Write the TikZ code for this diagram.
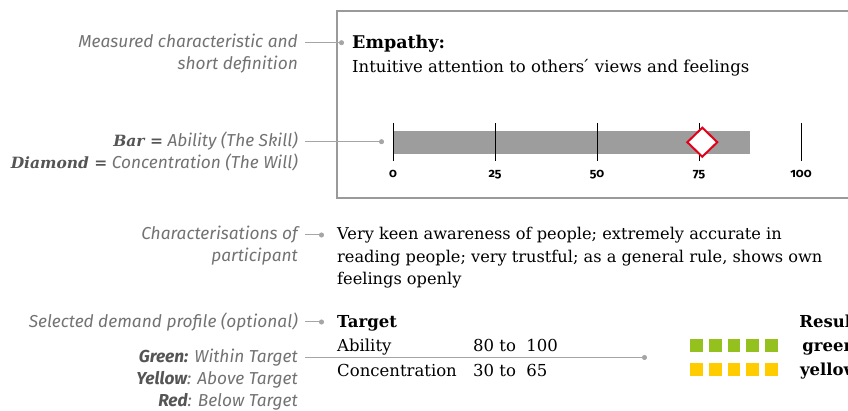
\documentclass[tikz,border=0pt]{standalone}
\usepackage{fontspec}
\setmainfont{DejaVu Serif}
\newfontfamily\labelfont{Fira Sans}
\newfontfamily\tickfont{Fira Sans}[Numbers=OldStyle]
\usetikzlibrary{arrows.meta}

\definecolor{labelgray}{HTML}{727272}
\definecolor{boldgray}{HTML}{555555}
\definecolor{linegray}{HTML}{A5A5A5}
\definecolor{boxgray}{HTML}{9A9A9A}
\definecolor{barfill}{HTML}{9C9D9C}
\definecolor{willred}{HTML}{E2001A}
\definecolor{okgreen}{HTML}{95C11F}
\definecolor{hiyellow}{HTML}{FFCC00}

\newcommand{\keyword}[1]{{\color{boldgray}\rmfamily\bfseries\fontsize{15.5}{22}\selectfont #1}}

\tikzset{
  lbl/.style={anchor=base east, inner sep=0pt, align=right, text=labelgray,
    font=\labelfont\itshape\fontsize{17.3}{22}\selectfont},
  txt/.style={anchor=base west, inner sep=0pt, align=left,
    font=\fontsize{16.5}{23}\selectfont},
  res/.style={anchor=base, inner sep=0pt, font=\bfseries\fontsize{16.5}{22}\selectfont},
  tick/.style={anchor=base, inner sep=0pt, font=\tickfont\bfseries\fontsize{12.5}{14}\selectfont},
  link/.style={draw=linegray, line width=1pt, shorten <=7pt, -{Circle[length=5pt]}},
}

\begin{document}
\begin{tikzpicture}[x=1pt,y=-1pt]
  \path[use as bounding box] (0,0) rectangle (848,411);

	% Caja
	\draw[boxgray,line width=1.2pt] (337,11) rectangle (880,198);

	% Titulo
	\node[txt,font=\bfseries\fontsize{17.5}{20}\selectfont] (empathy) at (352,48.5) {Empathy:};
	\node[txt] (empdef) at (352,72.7) {Intuitive attention to others\'{} views and feelings};

	% Barra
	\fill[barfill] (393,131) rectangle (750,154);
	\foreach \v/\x in {0/393,25/495,50/597,75/699,100/801}{
		\draw[line width=1pt] (\x,123.5) -- (\x,161.5);
		\node[tick] (t\v) at (\x,177.7) {\v};
	}

	% Diamante
	\draw[willred,line width=2pt,fill=white] (687.3,142.2) -- (702.3,127.7) -- (717.3,142.2) -- (702.3,156.7) -- cycle;

	% Caracterizacion (base = ultima linea)
	\node[txt,font=\fontsize{16.2}{22.5}\selectfont] (chartext) at (337,285) {Very keen awareness of people; extremely accurate in\\reading people; very trustful; as a general rule, shows own\\feelings openly};

	% Perfil
	\node[txt,font=\bfseries\fontsize{16.5}{22}\selectfont] (target) at (337,327) {Target};
	\node[txt] (ability) at (337,352) {Ability};
	\node[txt] (abrange) at (473,352) {80 to\ \ 100};
	\node[txt] (conc) at (337,376) {Concentration};
	\node[txt] (concrange) at (473,376) {30 to\ \ 65};

	% Cuadros
	\foreach \i in {0,...,4}{
		\fill[okgreen] ({690+18.8*\i},339) rectangle ++(12.7,12.7);
		\fill[hiyellow] ({690+18.8*\i},363.3) rectangle ++(12.7,12.7);
	}
	\node[res] (result) at (829,327) {Result};
	\node[res] (resgreen) at (829,352) {green};
	\node[res] (resyellow) at (829,375.5) {yellow};

	% Etiquetas (base = ultima linea)
	\node[lbl] (lblmeasure) at (298,69.5) {Measured characteristic and\\short definition};
	\node[lbl] (lblbar) at (298,168.5) {\keyword{Bar =} Ability (The Skill)\\\keyword{Diamond =} Concentration (The Will)};
	\node[lbl] (lblchar) at (298,261.5) {Characterisations of\\participant};
	\node[lbl] (lbldemand) at (298,327) {Selected demand profile (optional)};
	\node[lbl] (lblcolour) at (298,406) {{\color{boldgray}\bfseries Green:} Within Target\\{\color{boldgray}\bfseries Yellow}: Above Target\\{\color{boldgray}\bfseries Red}: Below Target};

	\coordinate (dotA) at (344,42.7);
	\coordinate (dotB) at (384,141.7);
	\coordinate (dotC) at (324,235);
	\coordinate (dotD) at (324,322);
	\coordinate (dotE) at (647,357.5);

	\draw[link] (lblmeasure.east |- dotA) -- (dotA);
	\draw[link] (lblbar.east |- dotB) -- (dotB);
	\draw[link] (lblchar.east |- dotC) -- (dotC);
	\draw[link] (lbldemand.east |- dotD) -- (dotD);
	\draw[link] (lblcolour.east |- dotE) -- (dotE);
\end{tikzpicture}
\end{document}
